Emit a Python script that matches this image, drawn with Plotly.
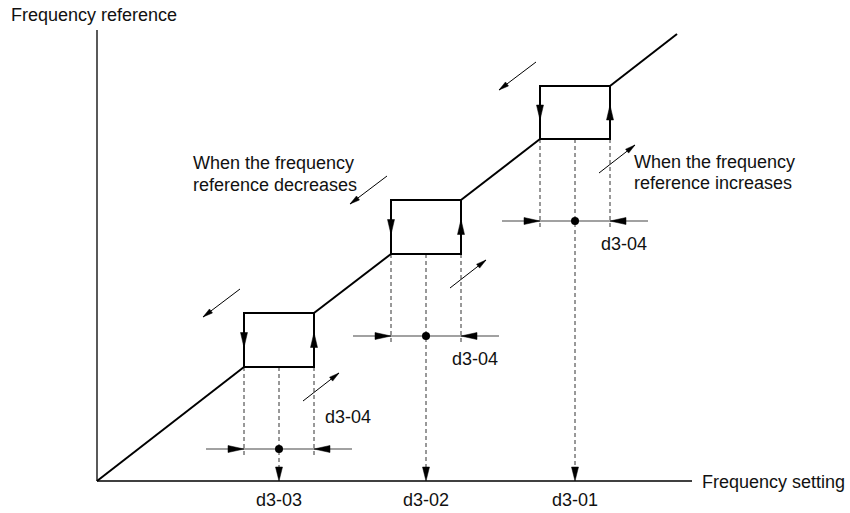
import math
import plotly.graph_objects as go

# ---------------- data ----------------
setting_labels = ["d3-03", "d3-02", "d3-01"]
setting_values = [182, 329, 478]      # frequency setting at centre of each dwell band
dwell_width = 70                      # d3-04 (band width)
reference_low = [114, 227, 342]       # reference held while increasing (bottom of loop)
reference_high = [168, 281, 395]      # reference held while decreasing (top of loop)
line_end_setting = 580
line_end_reference = 447
axis_x_max = 595
axis_y_max = 451

# ---------------- helpers ----------------
FONT = "Liberation Sans, Arial, Helvetica, sans-serif"
FS = 18


def tri(tx, ty, dx, dy, length, width):
    n = math.hypot(dx, dy)
    ux, uy = dx / n, dy / n
    bx, by = tx - ux * length, ty - uy * length
    px, py = -uy, ux
    return ([tx, bx + px * width / 2, bx - px * width / 2, tx, None],
            [ty, by + py * width / 2, by - py * width / 2, ty, None])


main_x, main_y = [], []
box_x, box_y = [], []
dash_x, dash_y = [], []
harr_x, harr_y = [], []
diag_x, diag_y = [], []
head_x, head_y = [], []
dot_x, dot_y = [], []
annotations = []


def add_head(*a):
    xs, ys = tri(*a)
    head_x.extend(xs)
    head_y.extend(ys)


# main line segments between loops
prev = (0, 0)
for c, lo, hi in zip(setting_values, reference_low, reference_high):
    left, right = c - dwell_width / 2, c + dwell_width / 2
    main_x += [prev[0], left, None]
    main_y += [prev[1], lo, None]
    prev = (right, hi)
main_x += [prev[0], line_end_setting, None]
main_y += [prev[1], line_end_reference, None]

for i, (c, lo, hi, lab) in enumerate(zip(setting_values, reference_low,
                                         reference_high, setting_labels)):
    left, right = c - dwell_width / 2, c + dwell_width / 2
    mid = (lo + hi) / 2
    # loop rectangle
    box_x += [left, right, right, left, left, None]
    box_y += [lo, lo, hi, hi, lo, None]
    add_head(left, mid - 7.5, 0, -1, 15, 7)
    add_head(right, mid + 7.5, 0, 1, 15, 7)
    # measurement line
    yl = lo - 82
    harr_x += [left - 38, right + 38, None]
    harr_y += [yl, yl, None]
    add_head(left, yl, 1, 0, 16, 7)
    add_head(right, yl, -1, 0, 16, 7)
    dot_x.append(c)
    dot_y.append(yl)
    # dashed projections
    dash_x += [left, left, None, right, right, None, c, c, None]
    dash_y += [lo, yl - 8, None, lo, yl - 8, None, lo, 14, None]
    add_head(c, 0, 0, -1, 14, 7)
    # diagonal direction arrows
    tx, ty = left - 41, hi - 4
    diag_x += [tx + 37, tx, None]
    diag_y += [ty + 28, ty, None]
    add_head(tx, ty, -37, -28, 10, 5)
    sx, sy = right - 11, lo - 34
    diag_x += [sx, sx + 36, None]
    diag_y += [sy, sy + 28, None]
    add_head(sx + 36, sy + 28, 36, 28, 10, 5)
    # labels
    annotations.append(dict(x=c, y=-19, text=lab, xanchor="center", yanchor="middle"))
    if i == 0:
        annotations.append(dict(x=right + 34, y=yl + 32, text="d3-04",
                                xanchor="center", yanchor="middle"))
    else:
        annotations.append(dict(x=right + 14, y=yl - 23, text="d3-04",
                                xanchor="center", yanchor="middle"))

annotations += [
    dict(x=-88, y=466, text="Frequency reference", xanchor="left", yanchor="middle"),
    dict(x=603, y=-1, text="Frequency setting", xanchor="left", yanchor="middle"),
    dict(x=94, y=318, text="When the frequency", xanchor="left", yanchor="middle"),
    dict(x=94, y=296, text="reference decreases", xanchor="left", yanchor="middle"),
    dict(x=535, y=319, text="When the frequency", xanchor="left", yanchor="middle"),
    dict(x=535, y=298, text="reference increases", xanchor="left", yanchor="middle"),
]
for a in annotations:
    a.update(showarrow=False, xref="x", yref="y",
             font=dict(family=FONT, size=FS, color="#111"))

fig = go.Figure()
fig.add_trace(go.Scatter(x=[0, 0, None, 0, axis_x_max], y=[axis_y_max, 0, None, 0, 0],
                         mode="lines", line=dict(color="black", width=1.3)))
fig.add_trace(go.Scatter(x=dash_x, y=dash_y, mode="lines",
                         line=dict(color="#333", width=1, dash="4px,3px")))
fig.add_trace(go.Scatter(x=harr_x, y=harr_y, mode="lines",
                         line=dict(color="#444", width=1.2)))
fig.add_trace(go.Scatter(x=diag_x, y=diag_y, mode="lines",
                         line=dict(color="black", width=1)))
fig.add_trace(go.Scatter(x=main_x, y=main_y, mode="lines",
                         line=dict(color="black", width=2)))
fig.add_trace(go.Scatter(x=box_x, y=box_y, mode="lines",
                         line=dict(color="black", width=2)))
fig.add_trace(go.Scatter(x=head_x, y=head_y, mode="lines", fill="toself",
                         fillcolor="black", line=dict(color="black", width=0.5)))
fig.add_trace(go.Scatter(x=dot_x, y=dot_y, mode="markers",
                         marker=dict(color="black", size=8)))

fig.update_layout(
    width=850, height=513,
    margin=dict(l=0, r=0, t=0, b=0),
    paper_bgcolor="white", plot_bgcolor="white",
    showlegend=False, hovermode=False,
    xaxis=dict(range=[-97, 753], visible=False, fixedrange=True),
    yaxis=dict(range=[-32, 481], visible=False, fixedrange=True),
    annotations=annotations,
)
fig.write_html("out.html",
               config={"displayModeBar": False, "staticPlot": True},
               post_script="document.body.style.margin='0';"
                           "document.body.style.overflow='hidden';")
